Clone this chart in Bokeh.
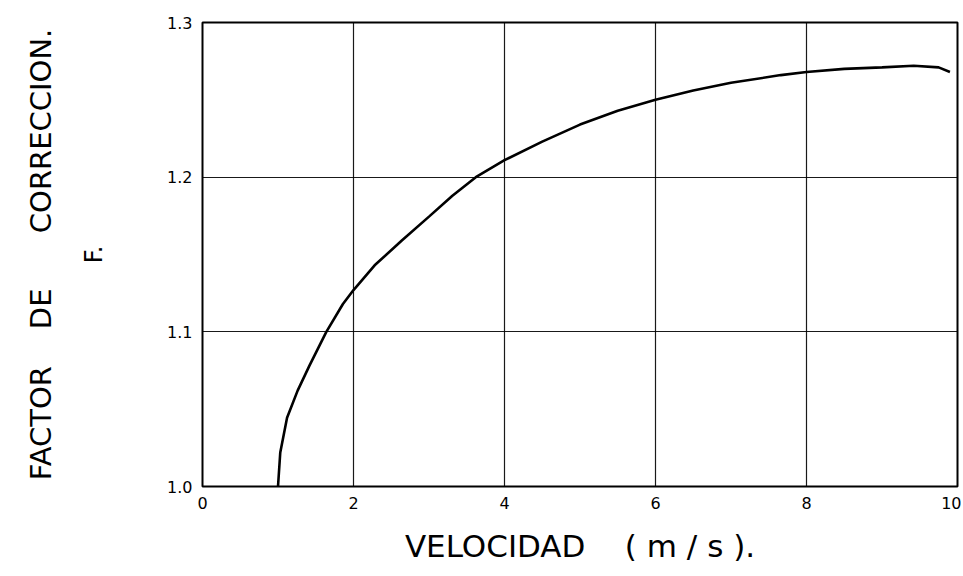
from bokeh.plotting import figure
from bokeh.models import Range1d, FixedTicker, LinearAxis
from bokeh.embed import file_html
from bokeh.resources import INLINE

# Data
velocidad = [1.0, 1.03, 1.12, 1.26, 1.415, 1.64, 1.86, 2.0, 2.28, 2.64, 3.0, 3.31,
             3.62, 4.0, 4.5, 5.0, 5.5, 6.0, 6.5, 7.0, 7.66, 8.0, 8.5, 9.0, 9.42,
             9.75, 9.9]
factor_f = [1.0, 1.022, 1.0445, 1.062, 1.078, 1.1, 1.118, 1.127, 1.143, 1.159,
            1.1745, 1.188, 1.2, 1.211, 1.223, 1.234, 1.243, 1.25, 1.256, 1.261,
            1.266, 1.268, 1.27, 1.271, 1.272, 1.271, 1.268]
x_ticks = [0, 2, 4, 6, 8, 10]
y_ticks = [1.0, 1.1, 1.2, 1.3]
y_tick_labels = {1.0: "1.0", 1.1: "1.1", 1.2: "1.2", 1.3: "1.3"}

NB = "\u00a0"
x_title = "VELOCIDAD" + NB * 4 + "(" + NB + "m" + NB + "/" + NB + "s" + NB + ")."
y_title = "FACTOR" + NB * 4 + "DE" + NB * 6 + "CORRECCION."
f_title = "F."

FONT = "DejaVu Sans"

p = figure(width=961, height=570, output_backend="svg", toolbar_location=None,
           x_range=Range1d(0, 10), y_range=Range1d(1.0, 1.3),
           min_border_left=202, min_border_right=4, min_border_top=22,
           min_border_bottom=84)

p.background_fill_color = "white"
p.border_fill_color = "white"
p.outline_line_color = "black"
p.outline_line_width = 2

p.xaxis.ticker = FixedTicker(ticks=x_ticks)
p.yaxis.ticker = FixedTicker(ticks=y_ticks)
p.yaxis.major_label_overrides = y_tick_labels


def style_axis(ax):
    ax.axis_line_color = None
    ax.major_tick_in = 0
    ax.major_tick_out = 0
    ax.minor_tick_in = 0
    ax.minor_tick_out = 0
    ax.major_label_text_font = FONT
    ax.major_label_text_font_size = "16px"
    ax.major_label_text_color = "black"
    ax.major_label_standoff = 10
    ax.axis_label_text_font = FONT
    ax.axis_label_text_font_style = "normal"
    ax.axis_label_text_color = "black"


style_axis(p.xaxis[0])
style_axis(p.yaxis[0])

p.xaxis.axis_label = x_title
p.xaxis.axis_label_text_font_size = "31px"
p.xaxis.axis_label_standoff = 16

p.yaxis.axis_label = f_title
p.yaxis.axis_label_text_font_size = "24px"
p.yaxis.axis_label_standoff = 56

outer = LinearAxis(ticker=FixedTicker(ticks=[]), axis_label=y_title)
style_axis(outer)
outer.major_label_text_font_size = "0px"
outer.major_label_standoff = 0
outer.axis_label_text_font_size = "29px"
outer.axis_label_standoff = 20
p.add_layout(outer, "left")

p.xgrid.ticker = FixedTicker(ticks=x_ticks)
p.ygrid.ticker = FixedTicker(ticks=y_ticks)
for g in (p.xgrid[0], p.ygrid[0]):
    g.grid_line_color = "black"
    g.grid_line_width = 1.2
    g.grid_line_alpha = 0.9

p.line(velocidad, factor_f, line_color="black", line_width=2.6)

open("out.html", "w").write(file_html(p, INLINE))
